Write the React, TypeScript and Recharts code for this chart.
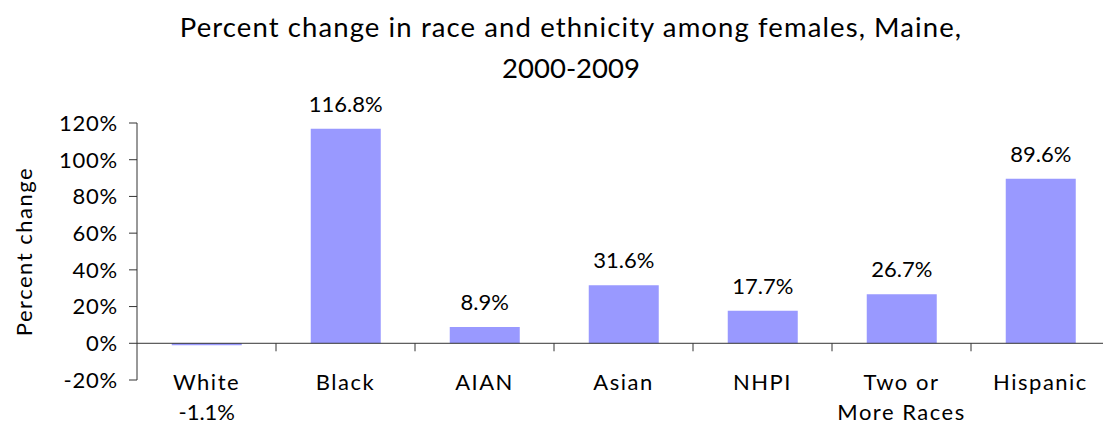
import { Bar, BarChart, LabelList, ReferenceLine, XAxis, YAxis } from "recharts";

// Percent change in race and ethnicity among females, Maine, 2000-2009
const categories = ["White", "Black", "AIAN", "Asian", "NHPI", "Two or\nMore Races", "Hispanic"];
const percentChange = [-1.1, 116.8, 8.9, 31.6, 17.7, 26.7, 89.6];
const yTicks = [-20, 0, 20, 40, 60, 80, 100, 120];

const data = categories.map((group, i) => ({ group, change: percentChange[i] }));

const FONT = "Lato, 'Open Sans', sans-serif";
const BAR_COLOR = "#9999ff";
const LINE_COLOR = "#333333";
const TEXT_SIZE = 22;

function CategoryTick(props: any) {
  const { x, y, payload } = props;
  const lines = String(payload.value).split("\n");
  return (
    <text
      x={x}
      y={y + 10}
      textAnchor="middle"
      fontFamily={FONT}
      fontSize={TEXT_SIZE}
      letterSpacing={1.5}
      fill="#000"
    >
      {lines.map((line, i) => (
        <tspan key={line} x={x} dy={i === 0 ? 0 : 30}>
          {line}
        </tspan>
      ))}
    </text>
  );
}

function ValueLabel(props: any) {
  const { x, y, width, height, value } = props;
  const top = Math.min(y, y + height);
  const bottom = Math.max(y, y + height);
  // negative values sit under the category name, like the source chart
  const ty = value < 0 ? bottom + 75 : top - 17;
  return (
    <text x={x + width / 2} y={ty} textAnchor="middle" fontFamily={FONT} fontSize={TEXT_SIZE} fill="#000">
      {`${value.toFixed(1)}%`}
    </text>
  );
}

function ZeroLine(props: any) {
  const { x1, y1, x2, y2 } = props;
  const step = (x2 - x1) / categories.length;
  return (
    <g>
      <line x1={x1} y1={y1} x2={x2} y2={y2} stroke={LINE_COLOR} strokeWidth={1} />
      {categories.slice(1).map((c, i) => (
        <line
          key={c}
          x1={x1 + step * (i + 1)}
          y1={y1}
          x2={x1 + step * (i + 1)}
          y2={y1 + 8}
          stroke={LINE_COLOR}
          strokeWidth={1}
        />
      ))}
    </g>
  );
}

function AxisTitle(props: any) {
  const { viewBox } = props;
  const cx = viewBox.x + 23;
  const cy = viewBox.y + viewBox.height / 2;
  return (
    <text
      x={cx}
      y={cy}
      transform={`rotate(-90, ${cx}, ${cy})`}
      textAnchor="middle"
      dominantBaseline="central"
      fontFamily={FONT}
      fontSize={TEXT_SIZE}
      letterSpacing={1.5}
      fill="#000"
    >
      Percent change
    </text>
  );
}

export default function App() {
  return (
    <div
      style={{
        position: "absolute",
        left: 0,
        top: 0,
        width: 1103,
        height: 427,
        overflow: "hidden",
        background: "#fff",
      }}
    >
      <div
        style={{
          position: "absolute",
          left: 171,
          width: 800,
          top: 0,
          textAlign: "center",
          fontFamily: FONT,
          fontSize: 27.5,
          lineHeight: "41px",
          paddingTop: 6,
          color: "#000",
          whiteSpace: "nowrap",
          display: "flex",
          flexDirection: "column",
          alignItems: "center",
        }}
      >
        <span style={{ letterSpacing: 1.1 }}>Percent change in race and ethnicity among females, Maine,</span>
        <span>2000-2009</span>
      </div>
      <BarChart
        width={1120}
        height={427}
        data={data}
        margin={{ top: 123, right: 10, bottom: 0, left: 0 }}
        barCategoryGap="25%"
      >
        <YAxis
          type="number"
          domain={[-20, 120]}
          ticks={yTicks}
          interval={0}
          width={137}
          tickSize={8}
          tickMargin={11}
          tickFormatter={(v: number) => `${v}%`}
          tick={{ fontFamily: FONT, fontSize: TEXT_SIZE, fill: "#000", letterSpacing: 0.8 }}
          axisLine={{ stroke: LINE_COLOR }}
          tickLine={{ stroke: LINE_COLOR }}
          label={<AxisTitle />}
        />
        <XAxis
          dataKey="group"
          height={47}
          axisLine={false}
          tickLine={false}
          tickSize={0}
          tickMargin={0}
          interval={0}
          tick={<CategoryTick />}
        />
        <Bar dataKey="change" fill={BAR_COLOR} isAnimationActive={false}>
          <LabelList dataKey="change" content={<ValueLabel />} />
        </Bar>
        <ReferenceLine y={0} shape={<ZeroLine />} />
      </BarChart>
    </div>
  );
}
